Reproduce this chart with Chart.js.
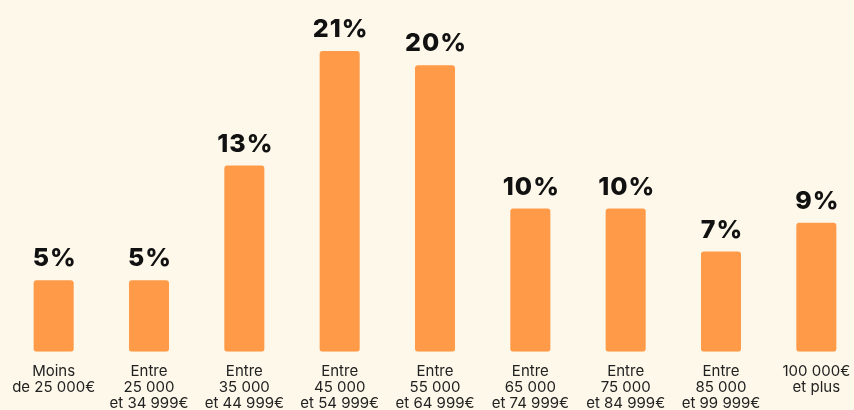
<!DOCTYPE html>
<html>
<head>
<meta charset="utf-8">
<script src="https://cdn.jsdelivr.net/npm/chart.js@4"></script>
<style>
  html, body { margin: 0; padding: 0; background: #fef8ea; overflow: hidden; }
  #wrap { width: 864px; height: 416px; }
</style>
</head>
<body>
<div id="wrap"><canvas id="salaryChart"></canvas></div>
<script>
// salary bands
const categories = [
  ['Moins', 'de 25 000€'],
  ['Entre', '25 000', 'et 34 999€'],
  ['Entre', '35 000', 'et 44 999€'],
  ['Entre', '45 000', 'et 54 999€'],
  ['Entre', '55 000', 'et 64 999€'],
  ['Entre', '65 000', 'et 74 999€'],
  ['Entre', '75 000', 'et 84 999€'],
  ['Entre', '85 000', 'et 99 999€'],
  ['100 000€', 'et plus']
];
const shares = [5, 5, 13, 21, 20, 10, 10, 7, 9];

// draws the "xx%" above each bar
const valueLabels = {
  id: 'valueLabels',
  afterDatasetsDraw(chart) {
    const ctx = chart.ctx;
    const meta = chart.getDatasetMeta(0);
    ctx.save();
    ctx.font = '800 25px Inter';
    ctx.letterSpacing = '1px';
    ctx.fillStyle = '#111';
    ctx.textAlign = 'center';
    ctx.textBaseline = 'alphabetic';
    meta.data.forEach((bar, i) => {
      ctx.fillText(shares[i] + '%', bar.x + 1, bar.y - 14);
    });
    ctx.restore();
  }
};

const ctx = document.getElementById('salaryChart').getContext('2d');
const myChart = new Chart(ctx, {
  type: 'bar',
  data: {
    labels: categories,
    datasets: [{
      data: shares,
      backgroundColor: '#ff9a48',
      borderRadius: 3,
      borderSkipped: false,
      categoryPercentage: 1,
      barPercentage: 0.42
    }]
  },
  options: {
    responsive: true,
    maintainAspectRatio: false,
    animation: false,
    layout: { padding: { left: 6, right: 0, top: 0, bottom: 0 } },
    plugins: { legend: { display: false }, tooltip: { enabled: false } },
    scales: {
      x: {
        grid: { display: false },
        border: { display: false },
        ticks: {
          color: '#222',
          font: { family: 'Inter', size: 15, lineHeight: 1.07 },
          padding: 4,
          maxRotation: 0,
          autoSkip: false
        }
      },
      y: {
        display: false,
        min: 0,
        max: 24.55
      }
    }
  },
  plugins: [valueLabels]
});
</script>
</body>
</html>
